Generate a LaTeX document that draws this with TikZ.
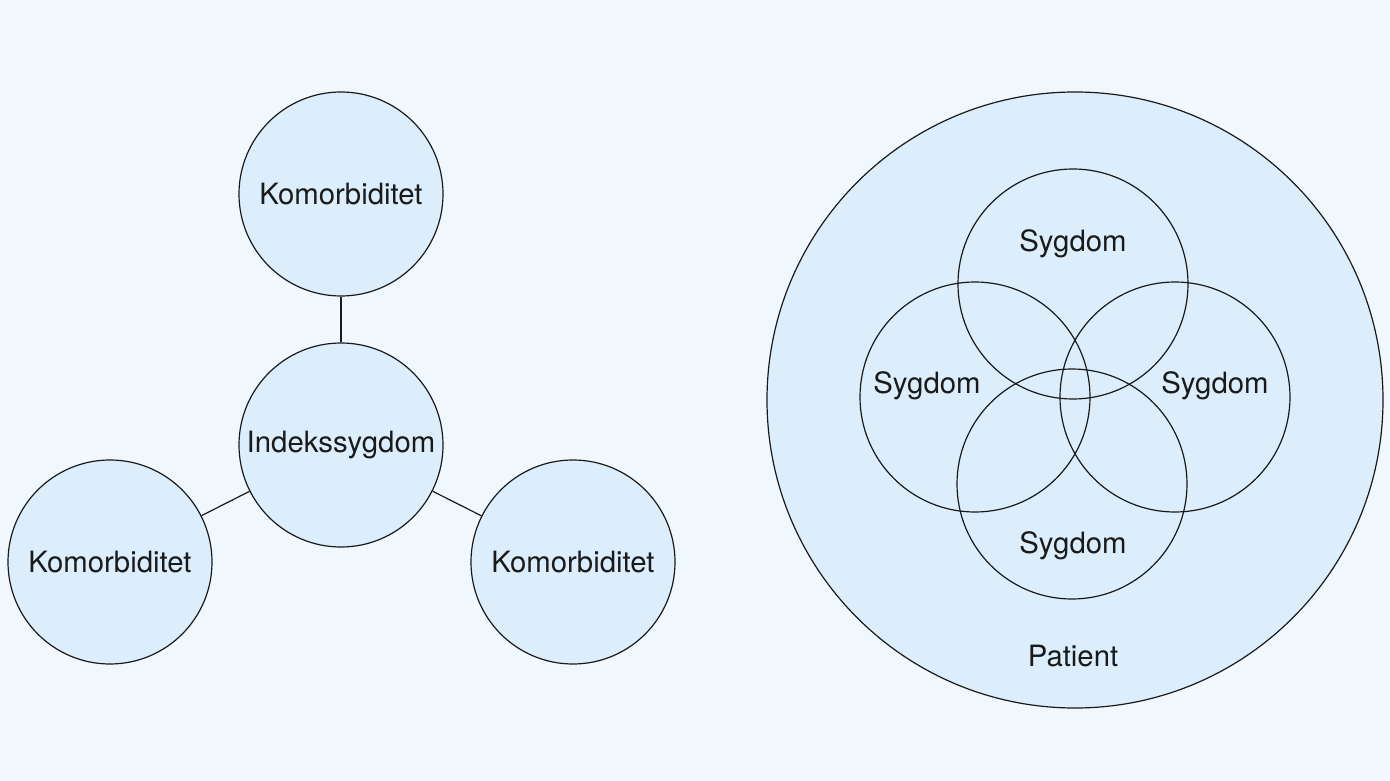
\documentclass[tikz,border=0pt]{standalone}
\usepackage{fontspec}
\setmainfont{TeX Gyre Heros}
\definecolor{bg}{HTML}{F0F7FD}
\definecolor{cfill}{HTML}{DCEEFB}
\definecolor{cline}{HTML}{1A1A1A}
\begin{document}
\begin{tikzpicture}[x=0.75pt,y=-0.75pt,
  bubble/.style={circle,draw=cline,fill=cfill,line width=0.9pt,inner sep=0pt},
  ring/.style={circle,draw=cline,line width=0.9pt,inner sep=0pt},
  lbl/.style={font=\fontsize{22}{26}\selectfont,text=cline},
  link/.style={draw=cline,line width=0.9pt}]
\fill[bg] (0,0) rectangle (1390,781);
\useasboundingbox (0,0) rectangle (1390,781);
% left graph
\node[bubble,minimum size=153pt,lbl] (top) at (341,194) {Komorbiditet};
\node[bubble,minimum size=153pt,lbl] (idx) at (341,445) {Indekssygdom};
\node[bubble,minimum size=153pt,lbl] (left) at (110,562) {Komorbiditet};
\node[bubble,minimum size=153pt,lbl] (right) at (573,562) {Komorbiditet};
\draw[link] (top) -- (idx);
\draw[link] (idx) -- (left);
\draw[link] (idx) -- (right);
% right diagram
\node[bubble,minimum size=462pt] (pat) at (1075,400) {};
\node[ring,minimum size=172.5pt] (s1) at (1073,284) {};
\node[ring,minimum size=172.5pt] (s2) at (975,397) {};
\node[ring,minimum size=172.5pt] (s3) at (1175,397) {};
\node[ring,minimum size=172.5pt] (s4) at (1072,484) {};
\node[lbl] (t1) at (1073,244) {Sygdom};
\node[lbl] (t2) at (927,386) {Sygdom};
\node[lbl] (t3) at (1215,386) {Sygdom};
\node[lbl] (t4) at (1073,546) {Sygdom};
\node[lbl] (tp) at (1073,656) {Patient};
\end{tikzpicture}
\end{document}
